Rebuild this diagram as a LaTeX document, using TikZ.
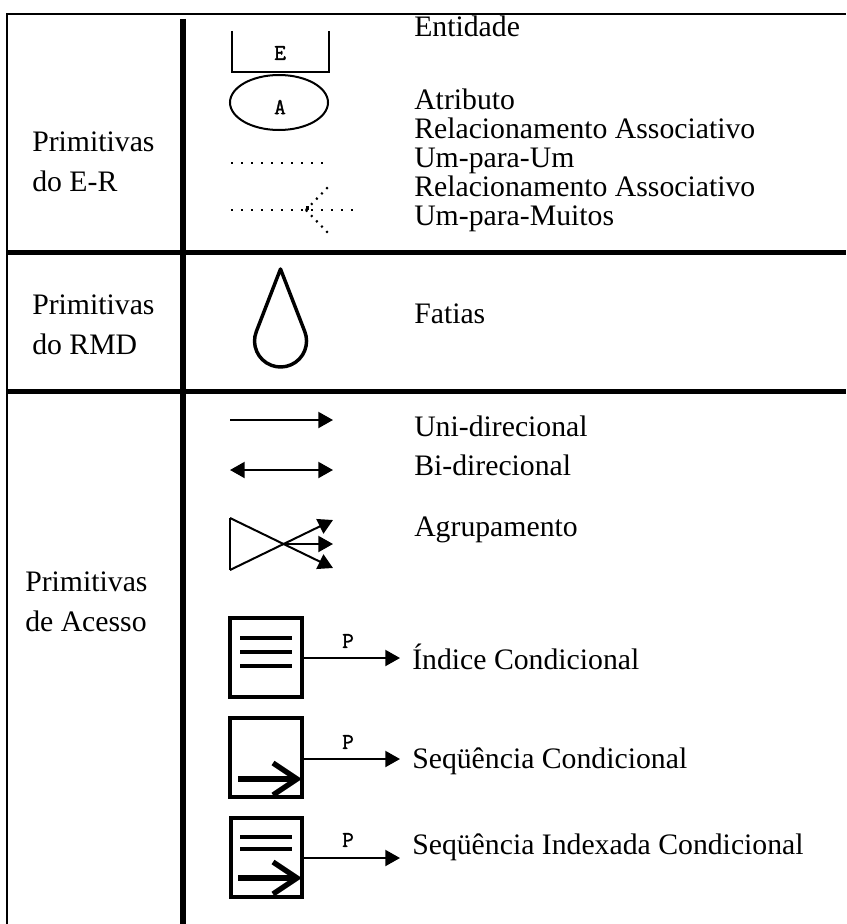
\documentclass[tikz,border=0pt]{standalone}
\usepackage{fontspec}
\setmainfont{Liberation Serif}
\newfontfamily\tagfont[FakeBold=1.5]{Latin Modern Mono}
\usetikzlibrary{arrows.meta}

\begin{document}
\begin{tikzpicture}[x=0.75pt, y=-0.75pt,
    label/.style={anchor=base west, inner sep=0pt, font=\fontsize{22.3}{26}\selectfont},
    tag/.style={inner sep=0pt, font=\tagfont\fontsize{17}{17}\selectfont},
    frame/.style={line width=1.5pt},
    rule/.style={line width=3.8pt},
    spine/.style={line width=4.5pt},
    symline/.style={line width=1.5pt},
    dots/.style={line width=1.6pt, dash pattern=on 1.5pt off 6pt},
    tip/.style={-{Triangle[length=11pt,width=12pt]}},
    bitip/.style={{Triangle[length=11pt,width=12pt]}-{Triangle[length=11pt,width=12pt]}},
    fileframe/.style={line width=2.7pt},
    bar/.style={line width=2.3pt},
    scan/.style={line width=4pt}
  ]
  \useasboundingbox (0,0) rectangle (846,924);

  % table frame
  \draw[frame] (6,14) -- (846,14);
  \draw[frame] (7,14) -- (7,924);
  \draw[spine] (183,19) -- (183,924);
  \draw[rule] (7,252.5) -- (846,252.5);
  \draw[rule] (7,391.5) -- (846,391.5);

  % row headings
  \node[label] (er1) at (32,151) {Primitivas};
  \node[label] (er2) at (32,191) {do E-R};
  \node[label] (rmd1) at (32,314) {Primitivas};
  \node[label] (rmd2) at (32,354) {do RMD};
  \node[label] (ac1) at (25,591) {Primitivas};
  \node[label] (ac2) at (25,631) {de Acesso};

  % E-R primitives
  \draw[symline] (232,31) -- (232,72) -- (329,72) -- (329,31);
  \node[tag] (ent) at (280,53) {E};
  \draw[symline] (279,102.5) ellipse [x radius=49, y radius=27.5];
  \node[tag] (att) at (280,107) {A};
  \draw[dots] (231,163) -- (326,163);
  \draw[dots] (231,210) -- (356,210);
  \coordinate (crow) at (306,210);
  \fill (crow) rectangle +(3,-4);
  \draw[dots, dash pattern=on 1.5pt off 4pt] (crow) -- (328,187);
  \draw[dots, dash pattern=on 1.5pt off 4pt] (crow) -- (328,233);

  \node[label] (t1) at (414,37) {Entidade};
  \node[label] (t2) at (414,109) {Atributo};
  \node[label] (t3) at (414,138) {Relacionamento Associativo};
  \node[label] (t4) at (414,167) {Um-para-Um};
  \node[label] (t5) at (414,196) {Relacionamento Associativo};
  \node[label] (t6) at (414,225) {Um-para-Muitos};

  % RMD primitive: slice
  \draw[line width=2.6pt, line join=round]
    (280.5,269) -- (256.3,331.6)
    arc[start angle=-158.8, end angle=-381.2, radius=26] -- cycle;
  \node[label] (t7) at (414,323) {Fatias};

  % access primitives
  \draw[symline, tip] (230,420) -- (333,420);
  \draw[symline, bitip] (230,470) -- (333,470);
  \node[label] (t8) at (414,436) {Uni-direcional};
  \node[label] (t9) at (414,475) {Bi-direcional};

  \coordinate (gtop) at (230,518);
  \coordinate (gbot) at (230,570);
  \coordinate (gmid) at (281,544);
  \draw[line width=2pt] (gtop) -- (gbot);
  \draw[symline, tip] (gtop) -- (333,568);
  \draw[symline, tip] (gbot) -- (333,520);
  \draw[symline, tip] (gmid) -- (333,544);
  \node[label] (t10) at (414,536) {Agrupamento};

  % conditional index
  \draw[fileframe] (230,618) rectangle (302,697);
  \draw[bar] (240,638) -- (292,638) (240,652) -- (292,652) (240,666) -- (292,666);
  \coordinate (ix) at (302,658);
  \draw[symline, tip] (ix) -- (400,658);
  \node[tag] (p1) at (348,641) {P};
  \node[label] (t11) at (412,669) {Índice Condicional};

  % conditional sequence
  \draw[fileframe] (230,718) rectangle (302,797);
  \draw[scan] (238,779) -- (296,779);
  \draw[scan, line join=miter] (273,763) -- (297,779) -- (273,795);
  \coordinate (sq) at (302,759);
  \draw[symline, tip] (sq) -- (400,759);
  \node[tag] (p2) at (348,742) {P};
  \node[label] (t12) at (412,768) {Seqüência Condicional};

  % conditional indexed sequence
  \draw[fileframe] (231,818) rectangle (302,897);
  \draw[bar] (240,837) -- (292,837) (240,849) -- (292,849);
  \draw[scan] (238,878) -- (296,878);
  \draw[scan, line join=miter] (273,862) -- (297,878) -- (273,894);
  \coordinate (isq) at (302,858);
  \draw[symline, tip] (isq) -- (400,858);
  \node[tag] (p3) at (348,840) {P};
  \node[label] (t13) at (412,854) {Seqüência Indexada Condicional};
\end{tikzpicture}
\end{document}
